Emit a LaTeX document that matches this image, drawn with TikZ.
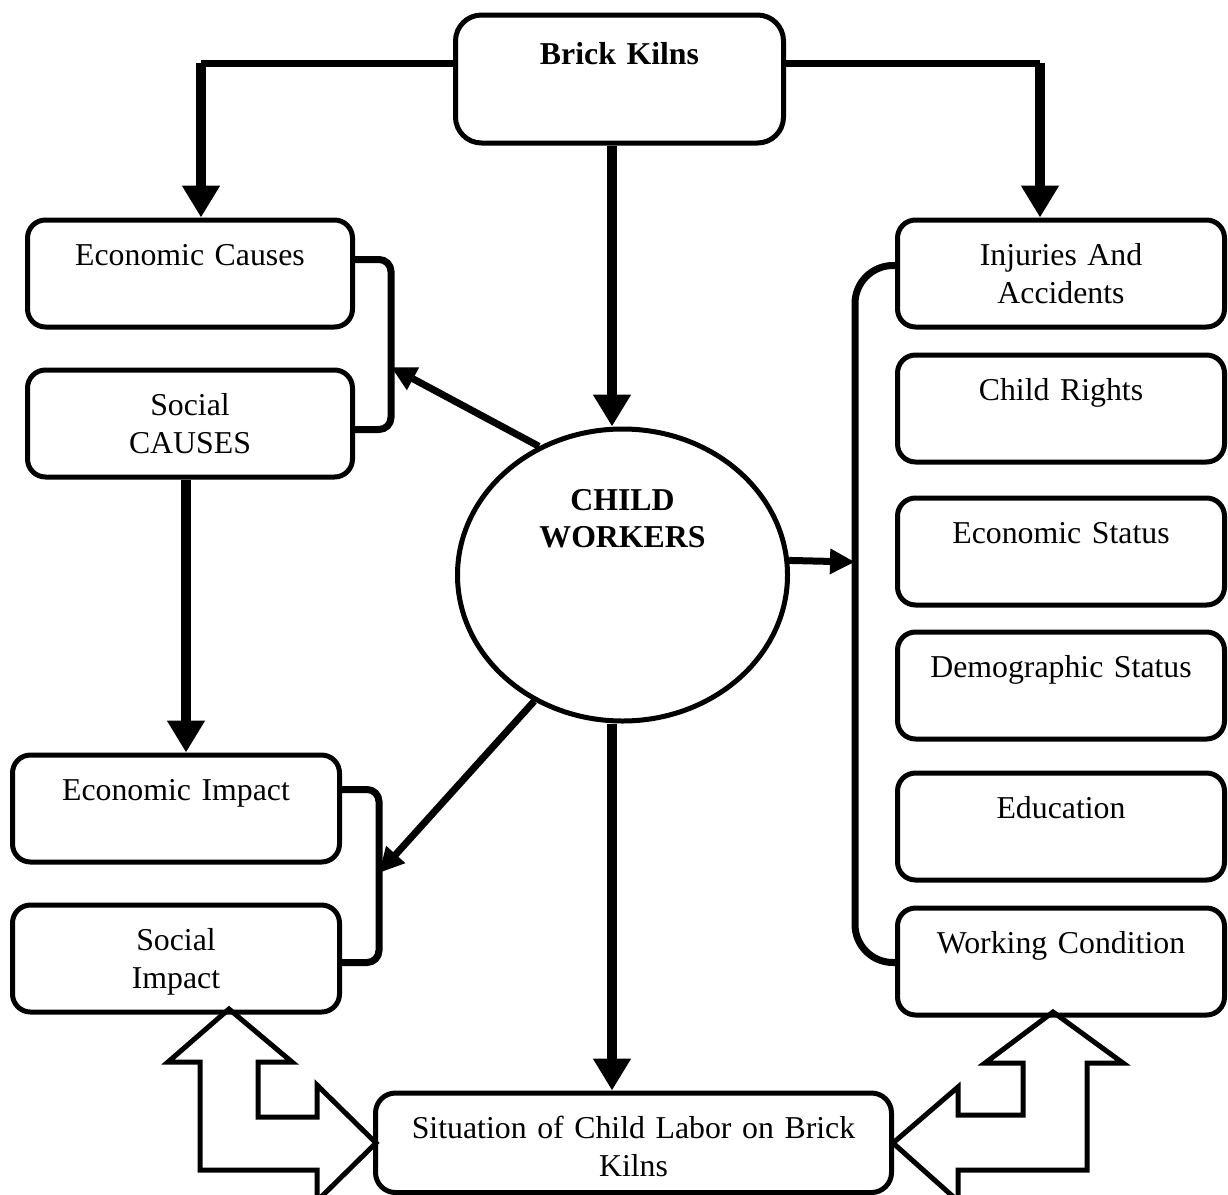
\documentclass[tikz,border=0pt]{standalone}
\usepackage{fontspec}
\setmainfont{Liberation Serif}
\usetikzlibrary{shapes.geometric,arrows.meta}

\newcommand\diafont{\fontsize{31.8pt}{37.5pt}\selectfont}

\tikzset{
  box/.style={draw, line width=5pt, rounded corners=18pt, inner sep=0pt,
    anchor=north, align=center, text width=#1,
    text height=45.5pt, text depth=61.5pt, font=\diafont},
  box/.default=325pt,
  mainarrow/.style={line width=10pt, -{Triangle[length=32pt,width=36pt]}},
  sidearrow/.style={line width=7pt, -{Triangle[length=25pt,width=24pt]}},
  feeder/.style={line width=7pt},
  bracket/.style={line width=7pt, rounded corners=12pt},
  blockarrow/.style={line width=5pt, line join=miter},
}

\begin{document}
\begin{tikzpicture}[x=1pt,y=-1pt]

  \useasboundingbox (0,0) rectangle (1228,1194);

  % top and centre
  \node[box=328pt, rounded corners=26pt, text height=49.5pt, text depth=78.5pt,
    font=\diafont\bfseries] (kilns) at (619.5,12.5) {Brick Kilns};
  \node[draw, ellipse, line width=5pt, minimum width=330pt, minimum height=292pt,
    inner sep=0pt, text width=220pt, align=center, text height=30pt, text depth=160pt,
    font=\diafont\bfseries] (cw) at (622.5,575) {CHILD\\WORKERS};
  \node[box=516pt, rounded corners=20pt, text depth=54pt] (sit) at (633.5,1090.5)
    {Situation of Child Labor on Brick\\Kilns};

  % left column
  \node[box] (ecause) at (190,217.5) {Economic Causes};
  \node[box] (scause) at (190,367.5) {Social\\CAUSES};
  \node[box=327pt] (eimpact) at (176,752.5) {Economic Impact};
  \node[box=327pt] (simpact) at (176,902.5) {Social\\Impact};

  % right column
  \foreach \name/\top/\txt in {injury/217.5/{Injuries And\\Accidents},
      rights/352.5/{Child Rights}, estatus/495.5/{Economic Status},
      dstatus/629.5/{Demographic Status}, educ/770.5/{Education},
      working/905.5/{Working Condition}}
    \node[box=327pt] (\name) at (1061,\top) {\txt};

  % arrows from the kilns
  \coordinate (lturn) at (201,63);
  \coordinate (rturn) at (1040,63);
  \draw[feeder] (kilns.west |- lturn) -- (lturn);
  \draw[mainarrow] (lturn) -- (lturn |- ecause.north);
  \draw[feeder] (kilns.east |- rturn) -- (rturn);
  \draw[mainarrow] (rturn) -- (rturn |- injury.north);
  \draw[mainarrow] ([xshift=-7.5pt]kilns.south) -- ([xshift=-7.5pt]kilns.south |- cw.north);
  \draw[mainarrow] ([xshift=-10.5pt]cw.south) -- ([xshift=-10.5pt]cw.south |- sit.north);
  \draw[mainarrow] ([xshift=-4pt]scause.south) -- ([xshift=-4pt]scause.south |- eimpact.north);

  % brackets
  \draw[bracket] ([yshift=14pt]ecause.east) -- ++(36,0) |- ([yshift=-6pt]scause.east);
  \draw[bracket] ([yshift=19pt]eimpact.east) -- ++(37,0) |- ([yshift=-4pt]simpact.east);
  \draw[bracket, rounded corners=38pt] ([yshift=8pt]injury.west) -- ++(-40,0)
    |- ([yshift=-1pt]working.west);

  \coordinate (lcause) at (391,367);
  \coordinate (limpact) at (379,873);
  \coordinate (rside) at (855,562);
  \draw[sidearrow] (cw.123) -- (lcause);
  \draw[sidearrow] (cw.235) -- (limpact);
  \draw[sidearrow] (cw.5) -- (rside);

  % hollow arrows
  \draw[blockarrow] (229,1009) -- (292,1062) -- (258,1062) -- (258,1117) -- (317,1117)
    -- (317,1085) -- (376,1143) -- (317,1201) -- (317,1170) -- (200,1170)
    -- (200,1062) -- (168,1062) -- cycle;
  \draw[blockarrow] (1053,1012) -- (1123,1063) -- (1087,1063) -- (1087,1170) -- (958,1170)
    -- (958,1201) -- (893,1143) -- (958,1087) -- (958,1115) -- (1023,1115)
    -- (1023,1063) -- (985,1063) -- cycle;

\end{tikzpicture}
\end{document}
